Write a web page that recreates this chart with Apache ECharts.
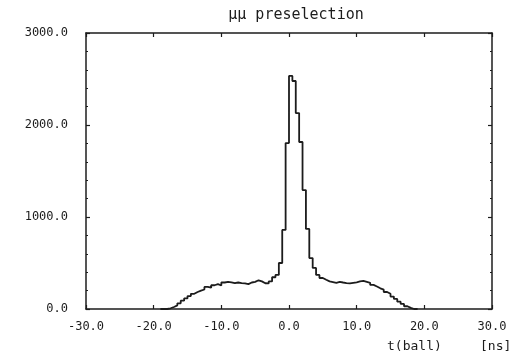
<!DOCTYPE html>
<html>
<head>
<meta charset="utf-8">
<script src="https://cdn.jsdelivr.net/npm/echarts@6/dist/echarts.min.js"></script>
<style>
  html, body { margin: 0; padding: 0; background: #fff; }
  #chart { width: 513px; height: 357px; }
</style>
</head>
<body>
<div id="chart"></div>
<script>
// histogram of t(ball), 0.5 ns bins starting at -19 ns
const binStart = -19;
const binWidth = 0.5;
const counts = [
  0, 0, 8, 22, 40, 62, 90, 115, 140, 165,
  185, 200, 212, 240, 232, 258, 270, 255, 288, 295,
  290, 280, 288, 282, 278, 270, 288, 295, 312, 300,
  280, 278, 300, 345, 370, 500, 859, 1804,
  2533, 2478, 2130, 1815, 1293, 870, 554, 446, 370, 337,
  318, 300, 293, 285, 295, 288, 282, 278, 285, 290,
  300, 305, 295, 285, 262, 245, 225, 210, 185, 165,
  135, 110, 80, 55, 30, 12, 0, 0
];
const xTicks = [-30, -20, -10, 0, 10, 20, 30];
const yTicks = [0, 1000, 2000, 3000];

const ink = "#1c1c1c";
const mono = "DejaVu Sans Mono";

// step line points: left edge of every bin + right edge of the last one
const points = counts.map((c, i) => [binStart + i * binWidth, c]);
points.push([binStart + counts.length * binWidth, counts[counts.length - 1]]);

const chart = echarts.init(document.getElementById("chart"), null, { renderer: "canvas" });

const xBase = {
  type: "value",
  min: xTicks[0],
  max: xTicks[xTicks.length - 1],
  interval: 10,
  splitLine: { show: false },
  axisLine: { show: true, onZero: false, lineStyle: { color: ink, width: 1.5 } },
  axisTick: { show: true, inside: true, length: 4, lineStyle: { color: ink, width: 1.2 } },
};
const yBase = {
  type: "value",
  min: yTicks[0],
  max: yTicks[yTicks.length - 1],
  interval: 1000,
  splitLine: { show: false },
  axisLine: { show: true, onZero: false, lineStyle: { color: ink, width: 1.5 } },
  axisTick: { show: true, inside: true, length: 4, lineStyle: { color: ink, width: 1.2 } },
  minorTick: { show: true, splitNumber: 5, length: 2, lineStyle: { color: ink } },
};

chart.setOption({
  animation: false,
  backgroundColor: "#fff",
  grid: { left: 86, right: 21, top: 33, bottom: 48 },
  title: {
    text: "μμ preselection",
    left: 291,
    top: 3,
    textAlign: "center",
    textStyle: { fontFamily: mono, fontSize: 15, fontWeight: "normal", color: ink },
  },
  xAxis: [
    {
      ...xBase,
      position: "bottom",
      axisLabel: {
        margin: 12,
        fontFamily: mono,
        fontSize: 12,
        color: ink,
        formatter: (v) => v.toFixed(1),
      },
    },
    { ...xBase, position: "top", axisLabel: { show: false } },
  ],
  yAxis: [
    {
      ...yBase,
      position: "left",
      axisLabel: {
        margin: 18,
        fontFamily: mono,
        fontSize: 12,
        color: ink,
        formatter: (v) => v.toFixed(1),
      },
    },
    { ...yBase, position: "right", axisLabel: { show: false } },
  ],
  graphic: [
    {
      type: "text",
      left: 387,
      top: 340,
      style: { text: "t(ball)", font: "13px " + mono, fill: ink },
    },
    {
      type: "text",
      left: 480,
      top: 340,
      style: { text: "[ns]", font: "13px " + mono, fill: ink },
    },
  ],
  series: [
    {
      type: "line",
      step: "end",
      data: points,
      symbol: "none",
      lineStyle: { color: ink, width: 1.8 },
    },
  ],
});
</script>
</body>
</html>
